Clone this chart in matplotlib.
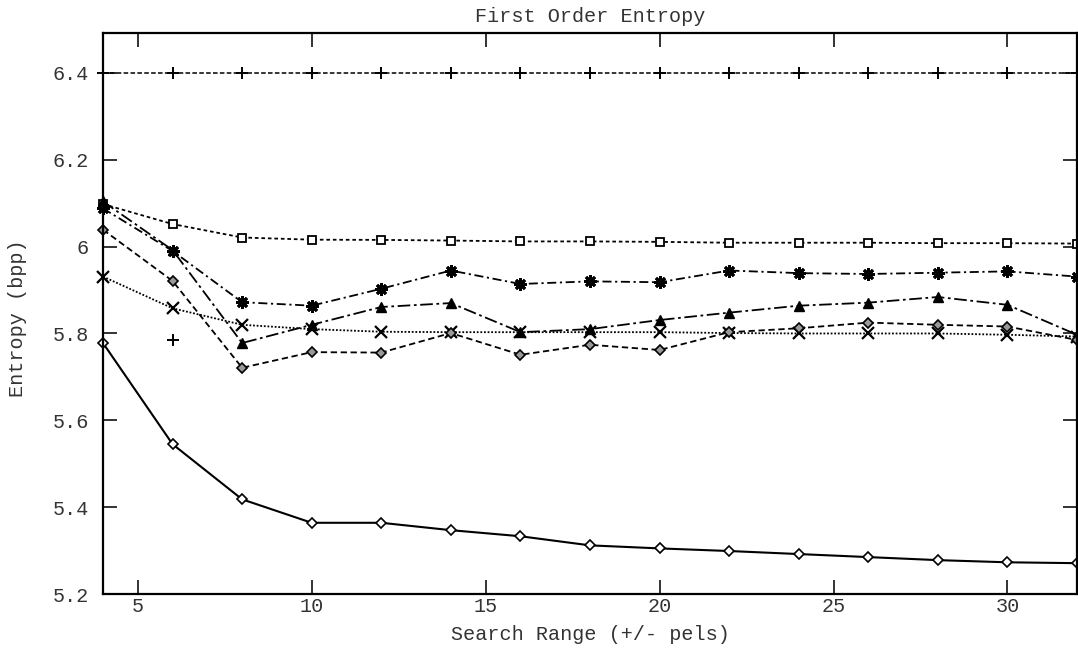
import matplotlib
matplotlib.use("Agg")
import matplotlib.pyplot as plt

search_range = [4, 6, 8, 10, 12, 14, 16, 18, 20, 22, 24, 26, 28, 30, 32]

plus_series = [6.40] * 15
square_series = [6.098, 6.052, 6.021, 6.016, 6.0155, 6.014, 6.012, 6.012, 6.011,
                 6.009, 6.009, 6.009, 6.008, 6.008, 6.007]
asterisk_series = [6.088, 5.990, 5.872, 5.864, 5.903, 5.945, 5.914, 5.920, 5.918,
                   5.945, 5.939, 5.937, 5.940, 5.943, 5.931]
triangle_series = [6.104, 5.992, 5.778, 5.820, 5.861, 5.870, 5.803, 5.810, 5.831,
                   5.848, 5.864, 5.871, 5.884, 5.866, 5.797]
cross_series = [5.931, 5.858, 5.820, 5.810, 5.804, 5.803, 5.803, 5.803, 5.803,
                5.801, 5.800, 5.800, 5.800, 5.797, 5.793]
diamond_dashed_series = [6.039, 5.921, 5.721, 5.757, 5.756, 5.801, 5.751, 5.774, 5.762,
                         5.803, 5.812, 5.825, 5.820, 5.816, 5.785]
diamond_solid_series = [5.778, 5.545, 5.418, 5.364, 5.364, 5.347, 5.333, 5.312, 5.305,
                        5.299, 5.292, 5.285, 5.278, 5.273, 5.271]
lone_point_x = [6]
lone_point_y = [5.784]

title = "First Order Entropy"
xlabel = "Search Range (+/- pels)"
ylabel = "Entropy (bpp)"
xticks = [5, 10, 15, 20, 25, 30]
yticks = [5.2, 5.4, 5.6, 5.8, 6.0, 6.2, 6.4]
yticklabels = ["5.2", "5.4", "5.6", "5.8", "6", "6.2", "6.4"]

plt.rcParams['font.family'] = ['Liberation Mono', 'DejaVu Sans Mono']
txt = '#333333'
fs = 14.5

W, H = 1078, 648
fig = plt.figure(figsize=(W / 100, H / 100), dpi=100)
ax = fig.add_axes([103 / W, 1 - 594 / H, (1077 - 103) / W, (594 - 33) / H])

lw = 1.3
ax.plot(search_range, plus_series, color='k', lw=1.1, linestyle=(0, (3, 1.5)),
        marker='+', ms=9, mew=1.4, clip_on=False)
ax.plot(search_range, square_series, color='k', lw=lw, linestyle=(0, (2, 1.6)),
        marker='s', ms=6, mfc='white', mec='k', mew=1.3, clip_on=False)
ax.plot(search_range, asterisk_series, color='k', lw=lw, linestyle=(0, (5, 2, 1.2, 2)),
        marker=(8, 2, 0), ms=9, mew=2.0, clip_on=False)
ax.plot(search_range, triangle_series, color='k', lw=lw, linestyle=(0, (7, 2, 1.5, 2)),
        marker='^', ms=7, mfc='k', mec='k', clip_on=False)
ax.plot(search_range, cross_series, color='k', lw=lw, linestyle=(0, (1, 1)),
        marker='x', ms=8, mew=1.6, clip_on=False)
ax.plot(search_range, diamond_dashed_series, color='k', lw=lw, linestyle=(0, (3.5, 2)),
        marker='D', ms=5.5, mfc='#999999', mec='k', mew=1.2, clip_on=False)
ax.plot(search_range, diamond_solid_series, color='k', lw=1.5, linestyle='-',
        marker='D', ms=5.5, mfc='white', mec='k', mew=1.2, clip_on=False)
ax.plot(lone_point_x, lone_point_y, color='k', linestyle='none',
        marker='+', ms=9, mew=1.4)

ax.set_xlim(4, 32)
ax.set_ylim(5.2, 6.492)
ax.set_xticks(xticks)
ax.set_xticklabels([str(t) for t in xticks])
ax.set_yticks(yticks)
ax.set_yticklabels(yticklabels)
ax.tick_params(direction='in', length=10, width=1.4, top=True, right=True,
               labelsize=fs, colors=txt)
ax.tick_params(axis='y', pad=10)
ax.tick_params(axis='x', pad=2)
for s in ax.spines.values():
    s.set_linewidth(1.6)
    s.set_color('k')

fig.text(590 / W, 1 - 634 / H, xlabel, ha='center', va='center', fontsize=fs, color=txt)
fig.text(18 / W, 1 - 318 / H, ylabel, ha='center', va='center', rotation=90,
         fontsize=fs, color=txt)
fig.text(590 / W, 1 - 16 / H, title, ha='center', va='center', fontsize=fs, color=txt)

fig.savefig("out.png", dpi=100)
